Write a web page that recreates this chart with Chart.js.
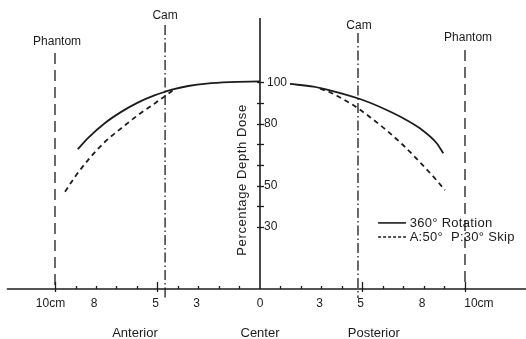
<!DOCTYPE html>
<html><head><meta charset="utf-8">
<script src="https://cdn.jsdelivr.net/npm/chart.js@4/dist/chart.umd.min.js"></script>
<style>html,body{margin:0;padding:0;background:#fff}#wrap{width:526px;height:339px;position:relative}</style>
</head><body><div id="wrap"><canvas id="c"></canvas></div>
<script>
// ---- data ----
const rotationX = [-8.89,-8.38,-7.56,-6.75,-5.94,-5.12,-4.63,-4.2,-3.5,-2.6,-1.5,0,0.7,1.46,2.60,3.41,4.88,5.37,6.18,6.99,7.80,8.62,8.94];
const rotationY = [67.7,73.2,80.4,85.9,90.4,93.9,95.5,96.8,98.3,99.5,100.2,100.5,null,99.3,98.0,96.2,92.0,90.2,86.7,82.7,77.8,70.6,65.7];
const skipX = [-9.51,-9.02,-8.38,-7.56,-6.75,-5.94,-5.12,-4.63,-4.2,0,2.93,3.41,3.82,4.39,4.88,5.37,6.18,6.99,7.80,8.62,9.02];
const skipY = [47.1,54.4,62.5,71.3,78.0,84.3,90.0,93.4,96.6,null,97.0,95.3,93.2,90.0,86.8,83.2,76.8,69.6,61.4,52.6,47.9];
const seriesNames = ['360° Rotation', 'A:50°  P:30° Skip'];
const xTickValues = [-10,-9,-8,-7,-6,-5,-4,-3,-2,-1,1,2,3,4,5,6,7,8,9,10];
const xMajorTicks = [-10,-5,5,10];
const xLabelValues = [-10,-8,-5,-3,0,3,5,8,10];
const xLabels = ['10cm','8','5','3','0','3','5','8','10cm'];
const yTickValues = [30,40,50,60,70,80,90,100];
const yLabelValues = [100,80,50,30];
const yLabels = ['100','80','50','30'];
const camX = [-4.63, 4.78];
const phantomX = [-10, 10];
const regionLabels = ['Anterior','Center','Posterior'];
const regionValues = [-6.1, 0, 5.55];
const yTitle = 'Percentage Depth Dose';

// ---- chart ----
const INK = '#1c1c1c';
const pts = (xs, ys) => xs.map((x, i) => ({x, y: ys[i]}));
const FONT = '"Liberation Sans", Arial, sans-serif';

const overlay = {
  id: 'overlay',
  beforeDatasetsDraw(chart) {
    const {ctx, scales: {x, y}} = chart;
    ctx.save();
    ctx.strokeStyle = INK; ctx.lineWidth = 1.6; ctx.lineCap = 'butt';
    ctx.beginPath(); ctx.moveTo(x.getPixelForValue(-12.35), y.getPixelForValue(0)); ctx.lineTo(x.getPixelForValue(13), y.getPixelForValue(0)); ctx.stroke();
    ctx.beginPath(); ctx.moveTo(x.getPixelForValue(0), y.getPixelForValue(131.2)); ctx.lineTo(x.getPixelForValue(0), y.getPixelForValue(0)); ctx.stroke();
    ctx.lineWidth = 1.3;
    xTickValues.forEach(v => {
      const px = Math.round(x.getPixelForValue(v)) + 0.5, py = y.getPixelForValue(0);
      const major = xMajorTicks.includes(v);
      ctx.beginPath(); ctx.moveTo(px, py - (major ? 7 : 3)); ctx.lineTo(px, py + (major ? 3 : 0)); ctx.stroke();
    });
    yTickValues.forEach(v => {
      const px = x.getPixelForValue(0), py = Math.round(y.getPixelForValue(v)) + 0.5;
      ctx.beginPath(); ctx.moveTo(px - 3, py); ctx.lineTo(px + 4, py); ctx.stroke();
    });
    ctx.restore();
  },
  afterDatasetsDraw(chart) {
    const {ctx, scales: {x, y}} = chart;
    const X = v => x.getPixelForValue(v), Y = v => y.getPixelForValue(v);
    ctx.save();
    ctx.fillStyle = INK;
    ctx.textBaseline = 'middle';
    ctx.font = '12px ' + FONT; ctx.textAlign = 'center';
    xLabelValues.forEach((v, i) => {
      let off = 0;
      if (xLabels[i] === '10cm') off = v < 0 ? -0.22 : 0.68;
      ctx.fillText(xLabels[i], X(v + off) - (v === 0 || xLabels[i]==='10cm' ? 0 : 2), Y(-6.9));
    });
    ctx.font = '13px ' + FONT;
    regionLabels.forEach((t, i) => ctx.fillText(t, X(regionValues[i]), Y(-21.3)));
    ctx.font = '12px ' + FONT; ctx.textAlign = 'left';
    yLabelValues.forEach((v, i) => ctx.fillText(yLabels[i], X(0) + (v === 100 ? 7 : 4), Y(v)));
    ctx.save();
    ctx.translate(X(-0.88), Y(52.8)); ctx.rotate(-Math.PI / 2);
    ctx.font = '13px ' + FONT; ctx.textAlign = 'center';
    ctx.letterSpacing = '0.6px';
    ctx.fillText(yTitle, 0, 0);
    ctx.restore();
    ctx.font = '12px ' + FONT; ctx.textAlign = 'center';
    ctx.fillText('Phantom', X(phantomX[0] + 0.1), Y(119.6));
    ctx.fillText('Phantom', X(phantomX[1] + 0.15), Y(121.5));
    ctx.fillText('Cam', X(camX[0]), Y(132.2));
    ctx.fillText('Cam', X(camX[1] + 0.05), Y(127.5));
    const ds = chart.data.datasets;
    [0, 1].forEach(i => {
      const ly = Y(i === 0 ? 32 : 25.2);
      ctx.save();
      ctx.strokeStyle = INK; ctx.lineWidth = 1.6;
      ctx.setLineDash(i === 0 ? [] : [3, 2]);
      ctx.beginPath(); ctx.moveTo(X(5.76), ly); ctx.lineTo(X(7.12), ly); ctx.stroke();
      ctx.restore();
      ctx.font = '13px ' + FONT; ctx.textAlign = 'left';
      ctx.letterSpacing = '0.3px';
      ctx.fillText(ds[i].label, X(7.3), ly);
    });
    ctx.restore();
  }
};

const vline = (xv, top, bottom, dash) => ({
  data: [{x: xv, y: top}, {x: xv, y: bottom}],
  borderColor: INK, borderWidth: 1.3, borderDash: dash, pointRadius: 0, tension: 0
});

new Chart(document.getElementById('c'), {
  type: 'line',
  data: {
    datasets: [
      { label: seriesNames[0], data: pts(rotationX, rotationY), borderColor: INK, borderWidth: 1.8,
        pointRadius: 0, cubicInterpolationMode: 'monotone', spanGaps: false },
      { label: seriesNames[1], data: pts(skipX, skipY), borderColor: INK, borderWidth: 1.8, borderDash: [5, 4],
        pointRadius: 0, cubicInterpolationMode: 'monotone', spanGaps: false },
      vline(phantomX[0], 114.3, 0, [11, 6]),
      vline(phantomX[1], 115.7, 0, [11, 6]),
      vline(camX[0], 127.8, -4.4, [10, 3, 1.5, 3]),
      vline(camX[1], 124.0, -4.4, [10, 3, 1.5, 3])
    ]
  },
  options: {
    responsive: true, maintainAspectRatio: false, animation: false,
    layout: { padding: 0 },
    plugins: { legend: { display: false }, tooltip: { enabled: false } },
    scales: {
      x: { type: 'linear', display: false, min: -12.683, max: 12.976 },
      y: { type: 'linear', display: false, min: -24.21, max: 139.95 }
    }
  },
  plugins: [overlay]
});
</script></body></html>
